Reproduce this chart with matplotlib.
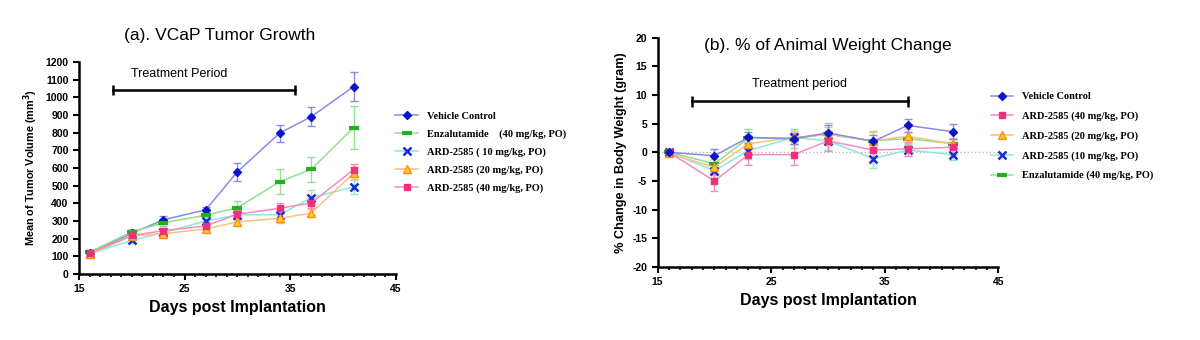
import numpy as np
import matplotlib
matplotlib.use("Agg")
import matplotlib.pyplot as plt
from matplotlib.lines import Line2D
from matplotlib.ticker import MultipleLocator

plt.rcParams["font.family"] = ["Liberation Sans", "DejaVu Sans"]
plt.rcParams["axes.unicode_minus"] = False

days = [16, 20, 23, 27, 30, 34, 37, 41]
day_ticks = [15, 25, 35, 45]

# tumour volume (mm^3) and SEM
vol_vehicle = [118, 230, 307, 363, 578, 797, 890, 1060]
vol_vehicle_err = [12, 15, 22, 15, 50, 48, 52, 82]
vol_enza = [125, 238, 290, 333, 375, 522, 592, 828]
vol_enza_err = [10, 15, 18, 20, 38, 70, 72, 120]
vol_ard10 = [115, 190, 235, 300, 335, 335, 432, 492]
vol_ard10_err = [10, 15, 20, 25, 30, 30, 45, 40]
vol_ard20 = [112, 215, 228, 255, 295, 315, 345, 570]
vol_ard20_err = [10, 15, 18, 18, 20, 28, 25, 35]
vol_ard40 = [118, 218, 245, 272, 338, 372, 402, 590]
vol_ard40_err = [10, 15, 18, 22, 25, 30, 30, 35]

# body weight change (%) and SEM
wt_vehicle = [0.0, -0.6, 2.6, 2.4, 3.4, 1.9, 4.7, 3.6]
wt_vehicle_err = [0.4, 1.2, 1.0, 1.0, 1.4, 1.2, 1.2, 1.3]
wt_ard40 = [0.0, -5.0, -0.4, -0.4, 2.0, 0.4, 0.6, 0.9]
wt_ard40_err = [0.4, 1.8, 1.8, 1.8, 1.8, 1.2, 1.2, 1.4]
wt_ard20 = [-0.2, -2.6, 1.5, 2.6, 3.1, 2.0, 2.8, 1.5]
wt_ard20_err = [0.4, 1.4, 1.5, 1.2, 1.4, 1.6, 1.2, 1.0]
wt_ard10 = [0.0, -3.2, 0.3, 2.6, 2.0, -1.1, 0.4, -0.4]
wt_ard10_err = [0.4, 1.2, 1.5, 1.2, 1.6, 1.6, 1.0, 1.0]
wt_enza = [0.0, -2.0, 2.5, 2.4, 3.2, 2.0, 2.4, 1.5]
wt_enza_err = [0.4, 2.6, 1.6, 1.6, 2.0, 1.8, 1.2, 1.0]

labels_a = ["Vehicle Control", "Enzalutamide    (40 mg/kg, PO)", "ARD-2585 ( 10 mg/kg, PO)",
            "ARD-2585 (20 mg/kg, PO)", "ARD-2585 (40 mg/kg, PO)"]
labels_b = ["Vehicle Control", "ARD-2585 (40 mg/kg, PO)", "ARD-2585 (20 mg/kg, PO)",
            "ARD-2585 (10 mg/kg, PO)", "Enzalutamide (40 mg/kg, PO)"]

# line colour, marker, marker face, marker edge
styles = {
    "vehicle": dict(line="#8a8ae6", marker="D", mfc="#0a14c8", mec="#0a14c8", ms=4.5, mew=1.0),
    "enza": dict(line="#8fe08f", marker="_", mfc="#22b022", mec="#22b022", ms=7, mew=3.0),
    "ard10": dict(line="#8ee8dc", marker="x", mfc="#1a2ccc", mec="#1a2ccc", ms=6, mew=1.8),
    "ard20": dict(line="#ffbf80", marker="^", mfc="#ffd21a", mec="#ff8c1a", ms=6, mew=1.0),
    "ard40": dict(line="#f58cbc", marker="s", mfc="#f0307a", mec="#f0307a", ms=5, mew=1.0),
}


def draw_series(ax, x, y, err, st):
    ax.errorbar(x, y, yerr=err, fmt="none", ecolor=st["line"], elinewidth=1.0,
                capsize=3, capthick=1.0, zorder=2)
    ax.plot(x, y, color=st["line"], lw=1.1, marker=st["marker"], mfc=st["mfc"],
            mec=st["mec"], ms=st["ms"], mew=st["mew"], zorder=3)


def handle(st):
    return Line2D([], [], color=st["line"], lw=1.1, marker=st["marker"],
                  mfc=st["mfc"], mec=st["mec"], ms=st["ms"], mew=st["mew"])


def style_axes(ax):
    for side in ["top", "right"]:
        ax.spines[side].set_visible(False)
    for side in ["left", "bottom"]:
        ax.spines[side].set_linewidth(1.8)
    ax.set_xticks(day_ticks)
    ax.xaxis.set_minor_locator(MultipleLocator(1))
    ax.tick_params(which="major", length=4, width=1.5, labelsize=7.5, direction="out")
    ax.tick_params(which="minor", length=2.5, width=1.2, direction="out")
    ax.tick_params(axis="y", which="minor", left=False)
    for lab in ax.get_xticklabels() + ax.get_yticklabels():
        lab.set_fontweight("bold")
    ax.set_xlabel("Days post Implantation", fontsize=11.5, fontweight="bold")


fig = plt.figure(figsize=(12, 3.4), dpi=100)

# (a) tumour growth
ax1 = fig.add_axes([0.0658, 0.194, 0.264, 0.624])
ax1.set_xlim(15, 45)
ax1.set_ylim(0, 1200)
ax1.yaxis.set_major_locator(MultipleLocator(100))
series_a = [(vol_vehicle, vol_vehicle_err, "vehicle"), (vol_enza, vol_enza_err, "enza"),
            (vol_ard10, vol_ard10_err, "ard10"), (vol_ard20, vol_ard20_err, "ard20"),
            (vol_ard40, vol_ard40_err, "ard40")]
for vals, errs, key in series_a:
    draw_series(ax1, days, vals, errs, styles[key])
ax1.errorbar([18.2, 35.5], [1040, 1040], yerr=30, color="black", lw=1.8,
             capsize=0, elinewidth=1.8)
ax1.text(24.5, 1130, "Treatment Period", ha="center", va="center", fontsize=9)
style_axes(ax1)
ax1.set_ylabel("Mean of Tumor Volume (mm$^\\mathbf{3}$)", fontsize=7.8, fontweight="bold")
fig.text(0.183, 0.895, "(a). VCaP Tumor Growth", ha="center", va="center", fontsize=12.5)
ax1.legend([handle(styles[k]) for _, _, k in series_a], labels_a,
           loc="upper left", bbox_to_anchor=(0.326, 0.684), bbox_transform=fig.transFigure,
           frameon=False, handlelength=2.2, labelspacing=0.8, borderaxespad=0,
           prop={"family": "Liberation Serif", "weight": "bold", "size": 7.5})

# (b) body weight change
ax2 = fig.add_axes([0.548, 0.215, 0.284, 0.674])
ax2.set_xlim(15, 45)
ax2.set_ylim(-20, 20)
ax2.yaxis.set_major_locator(MultipleLocator(5))
ax2.axhline(0, color="#bbbbbb", lw=1.0, ls=":", zorder=1)
series_b = [(wt_vehicle, wt_vehicle_err, "vehicle"), (wt_ard40, wt_ard40_err, "ard40"),
            (wt_ard20, wt_ard20_err, "ard20"), (wt_ard10, wt_ard10_err, "ard10"),
            (wt_enza, wt_enza_err, "enza")]
for vals, errs, key in series_b[::-1]:
    draw_series(ax2, days, vals, errs, styles[key])
ax2.errorbar([18, 37], [8.9, 8.9], yerr=1.0, color="black", lw=1.8,
             capsize=0, elinewidth=1.8)
ax2.text(27.5, 12, "Treatment period", ha="center", va="center", fontsize=9)
style_axes(ax2)
ax2.set_ylabel("% Change in Body Weight (gram)", fontsize=9.2, fontweight="bold")
fig.text(0.69, 0.865, "(b). % of Animal Weight Change", ha="center", va="center", fontsize=12.5)
ax2.legend([handle(styles[k]) for _, _, k in series_b], labels_b,
           loc="upper left", bbox_to_anchor=(0.822, 0.742), bbox_transform=fig.transFigure,
           frameon=False, handlelength=2.2, labelspacing=0.98, borderaxespad=0,
           prop={"family": "Liberation Serif", "weight": "bold", "size": 7.5})

fig.savefig("out.png", dpi=100, facecolor="white")
